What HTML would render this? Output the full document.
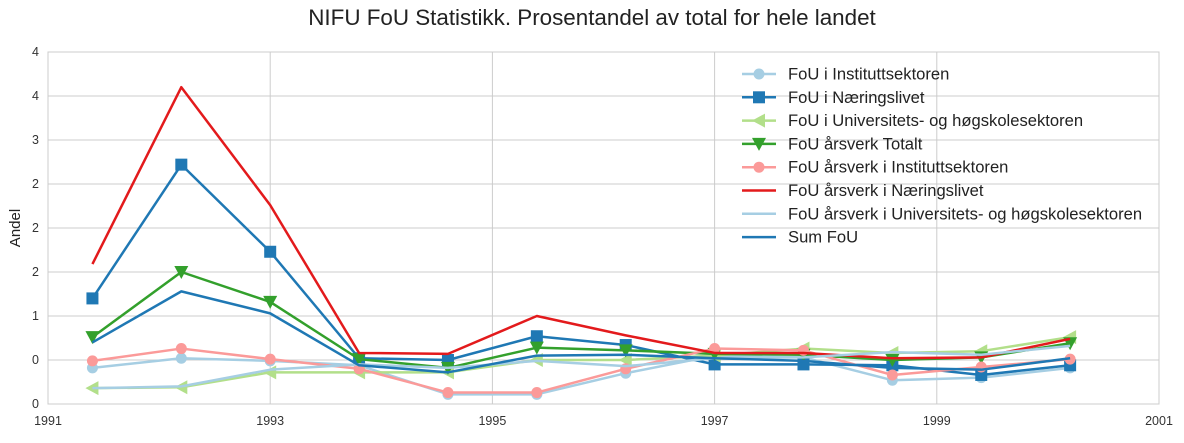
<!DOCTYPE html>
<html><head><meta charset="utf-8"><style>
body{margin:0;background:#fff;font-family:"Liberation Sans",sans-serif}
svg text{font-family:"Liberation Sans",sans-serif}
</style></head><body>
<svg id="chart" width="1184" height="438"></svg>
<script>
const years=[1991.4,1992.2,1993.0,1993.8,1994.6,1995.4,1996.2,1997.0,1997.8,1998.6,1999.4,2000.2];
const seriesNames=["FoU i Instituttsektoren","FoU i Næringslivet","FoU i Universitets- og høgskolesektoren","FoU årsverk Totalt","FoU årsverk i Instituttsektoren","FoU årsverk i Næringslivet","FoU årsverk i Universitets- og høgskolesektoren","Sum FoU"];
const instValues=[.41,.52,.49,.44,.11,.11,.35,.55,.53,.27,.30,.41];
const naerValues=[1.20,2.72,1.73,.52,.50,.77,.67,.45,.45,.44,.33,.44];
const univValues=[.18,.19,.36,.36,.36,.50,.50,.55,.63,.58,.60,.76];
const aarsTotValues=[.76,1.50,1.16,.51,.41,.64,.61,.57,.56,.50,.53,.69];
const aarsInstValues=[.49,.63,.51,.40,.13,.13,.40,.63,.61,.33,.42,.51];
const aarsNaerValues=[1.59,3.60,2.26,.58,.57,1.00,.78,.58,.58,.52,.53,.74];
const aarsUnivValues=[.18,.20,.39,.45,.41,.49,.43,.52,.53,.59,.56,.66];
const sumValues=[.70,1.28,1.03,.44,.36,.55,.56,.52,.49,.41,.39,.52];
const yTicks=[0,0.5,1,1.5,2,2.5,3,3.5,4];
const yTickLabels=["0","0","1","2","2","2","3","4","4"];
const xTicks=[1991,1993,1995,1997,1999,2001];

const allValues=[instValues,naerValues,univValues,aarsTotValues,aarsInstValues,aarsNaerValues,aarsUnivValues,sumValues];
const colors=["#a6cee3","#1f78b4","#b2df8a","#33a02c","#fb9a99","#e31a1c","#a6cee3","#1f78b4"];
const markers=["o","s","<","v","o",null,null,null];
const L=48,R=1159,T=52,B=404;
const xs=v=>L+(v-1991)/10*(R-L);
const ys=v=>B-v/4*(B-T);
const svg=document.getElementById('chart');
const NS="http://www.w3.org/2000/svg";
function mk(t,a,p){const e=document.createElementNS(NS,t);for(const k in a)e.setAttribute(k,a[k]);(p||svg).appendChild(e);return e;}
let r=mk('rect',{x:L,y:T,width:R-L,height:B-T,fill:'#fff',stroke:'#ccc','stroke-width':1});


yTicks.forEach((t,i)=>{
  const g=mk('line',{x1:L,x2:R,y1:ys(t),y2:ys(t),stroke:'#ccc','stroke-width':1});
  
  
  const tx=mk('text',{x:L-9,y:ys(t)+4,'text-anchor':'end','font-size':12.5,fill:'#333'});
  tx.textContent=yTickLabels[i];
  
  
});
xTicks.forEach(t=>{
  const g=mk('line',{x1:xs(t),x2:xs(t),y1:T,y2:B,stroke:'#ccc','stroke-width':1});
  
  
  const tx=mk('text',{x:xs(t),y:B+21,'text-anchor':'middle','font-size':12.5,fill:'#333'});
  tx.textContent=t;
  
  
});
function marker(type,x,y,c,parent){
  let e;
  if(type==='o')e=mk('circle',{cx:x,cy:y,r:5.5,fill:c},parent);
  else if(type==='s')e=mk('rect',{x:x-6,y:y-6,width:12,height:12,fill:c},parent);
  else if(type==='<')e=mk('polygon',{points:`${x-7},${y} ${x+6},${y-7} ${x+6},${y+7}`,fill:c},parent);
  else if(type==='v')e=mk('polygon',{points:`${x-7},${y-6} ${x+7},${y-6} ${x},${y+7}`,fill:c},parent);
  return e;
}
allValues.forEach((vals,si)=>{
  const g=mk('g',{});
  
  
  const pl=mk('polyline',{points:vals.map((v,i)=>xs(years[i])+','+ys(v)).join(' '),fill:'none',stroke:colors[si],'stroke-width':2.5,'stroke-linejoin':'round'},g);
  
  
  if(markers[si])vals.forEach((v,i)=>{
    const m=marker(markers[si],xs(years[i]),ys(v),colors[si],g);
    
    
  });
});
const lg=mk('g',{});


seriesNames.forEach((n,i)=>{
  const y=74+i*23.3;
  const e=mk('g',{},lg);
  
  
  mk('line',{x1:742,x2:776,y1:y,y2:y,stroke:colors[i],'stroke-width':2.5},e);
  if(markers[i])marker(markers[i],759,y,colors[i],e);
  const t=mk('text',{x:788,y:y+5.5,'font-size':16.6,fill:'#222'},e);
  t.textContent=n;
});
const title=mk('text',{x:592,y:25,'text-anchor':'middle','font-size':22.4,fill:'#222'});
title.textContent="NIFU FoU Statistikk. Prosentandel av total for hele landet";


const yl=mk('text',{x:20,y:228,'text-anchor':'middle','font-size':15,fill:'#222',transform:'rotate(-90 20 228)'});
yl.textContent="Andel";


</script>
</body></html>
